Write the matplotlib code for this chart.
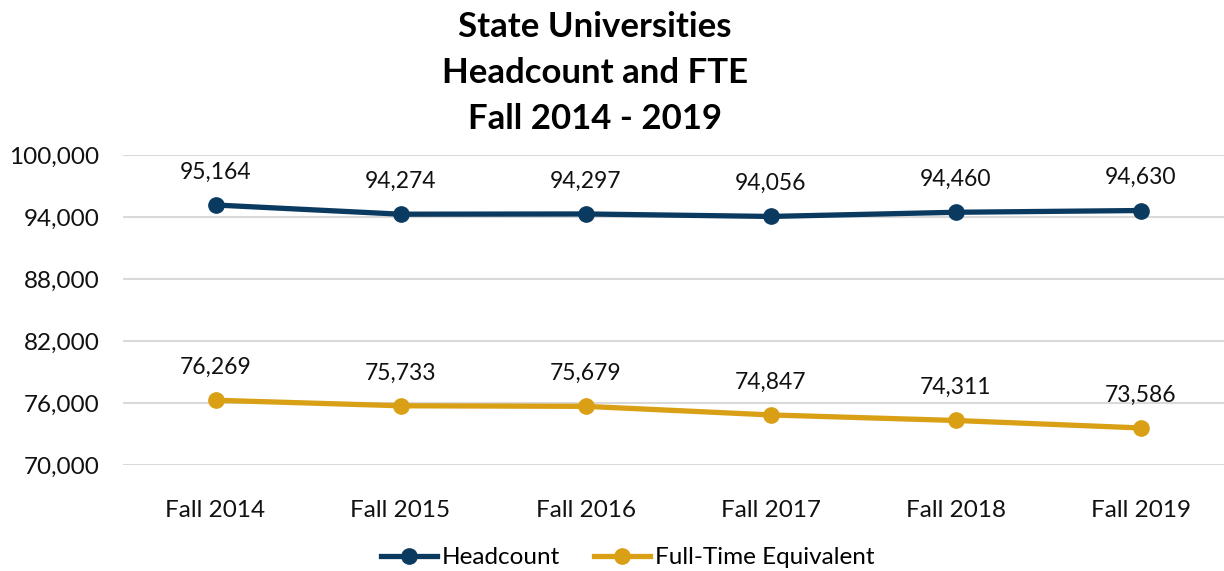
import matplotlib.pyplot as plt
from matplotlib.ticker import FuncFormatter

plt.rcParams['font.family'] = ['Lato', 'DejaVu Sans']

# data
terms = ['Fall 2014', 'Fall 2015', 'Fall 2016', 'Fall 2017', 'Fall 2018', 'Fall 2019']
headcount = [95164, 94274, 94297, 94056, 94460, 94630]
fte = [76269, 75733, 75679, 74847, 74311, 73586]

navy = '#0B3A60'
gold = '#D9A016'

fig = plt.figure(figsize=(12.24, 5.71), dpi=100)
ax = fig.add_axes([0.1005, 0.1856, 0.907, 0.5429])

x = list(range(len(terms)))
ax.plot(x, headcount, color=navy, lw=3.8, marker='o', ms=11, label='Headcount', zorder=3)
ax.plot(x, fte, color=gold, lw=3.8, marker='o', ms=11, label='Full-Time Equivalent', zorder=3)

# value labels above the points
for xi, v in zip(x, headcount):
    ax.annotate(f'{v:,}', (xi, v), xytext=(0, 16), textcoords='offset points',
                ha='center', va='bottom', fontsize=16.5, color='#111111')
for xi, v in zip(x, fte):
    ax.annotate(f'{v:,}', (xi, v), xytext=(0, 16), textcoords='offset points',
                ha='center', va='bottom', fontsize=16.5, color='#111111')

ax.set_xlim(-0.5, 5.5)
ax.set_ylim(70000, 100000)
ax.set_yticks(range(70000, 100001, 6000))
ax.yaxis.set_major_formatter(FuncFormatter(lambda v, p: f'{int(v):,}'))
ax.set_xticks(x)
ax.set_xticklabels(terms)
ax.tick_params(axis='both', length=0, labelsize=17.5, colors='#111111')
ax.tick_params(axis='x', pad=25)
ax.tick_params(axis='y', pad=17)

ax.grid(axis='y', color='#D9D9D9', lw=1.5)
ax.set_axisbelow(True)
for s in ax.spines.values():
    s.set_visible(False)

fig.text(0.486, 0.872, 'State Universities\nHeadcount and FTE\nFall 2014 - 2019',
         ha='center', va='center', fontsize=25, fontweight='bold', linespacing=1.55)

fig.legend(loc='center', bbox_to_anchor=(0.513, 0.023), ncol=2, frameon=False,
           fontsize=17.5, handlelength=2.3, columnspacing=1.4, handletextpad=0.2)

fig.savefig('out.png', dpi=100)
